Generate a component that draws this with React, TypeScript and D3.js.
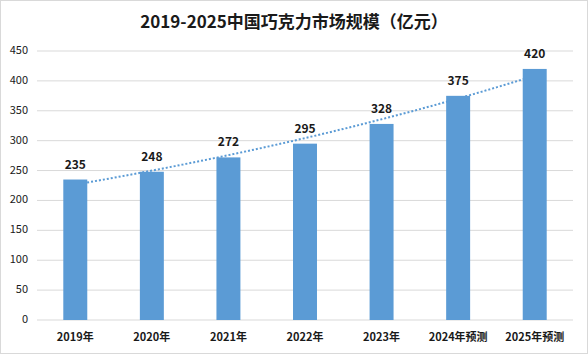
import * as d3 from 'd3';

const years = ['2019年', '2020年', '2021年', '2022年', '2023年', '2024年预测', '2025年预测'];
const values = [235, 248, 272, 295, 328, 375, 420];
const yTicks = [0, 50, 100, 150, 200, 250, 300, 350, 400, 450];

const title = '2019-2025中国巧克力市场规模（亿元）';
const font = '"Noto Sans CJK SC", "Noto Sans", sans-serif';
const barColor = '#5B9BD5';

export default function App() {
  const width = 588;
  const height = 354;
  const margin = { top: 51, right: 15, bottom: 34, left: 37 };
  const chartWidth = width - margin.left - margin.right;
  const chartHeight = height - margin.top - margin.bottom;

  const xScale = d3.scaleBand<string>()
    .domain(years)
    .range([0, chartWidth])
    .paddingInner(0.687)
    .paddingOuter(0.3435);

  const yScale = d3.scaleLinear()
    .domain([0, 450])
    .range([chartHeight, 0]);

  // exponential trendline (least squares on log values), as in the spreadsheet chart
  const idx = values.map((_, i) => i);
  const logs = values.map(v => Math.log(v));
  const mx = d3.mean(idx) as number;
  const my = d3.mean(logs) as number;
  const b = d3.sum(idx, i => (i - mx) * (logs[i] - my)) / d3.sum(idx, i => (i - mx) ** 2);
  const a = Math.exp(my - b * mx);
  const center = (i: number) => (xScale(years[i]) as number) + xScale.bandwidth() / 2;
  const step = xScale.step();
  const trendPts = d3.range(0, 6.001, 0.1);
  const trend = d3.line<number>()
    .x(t => center(0) + t * step)
    .y(t => yScale(a * Math.exp(b * t)));

  return (
    <svg width={width} height={height} style={{ position: 'absolute', left: 0, top: 0 }}>
      <rect x={0.5} y={0.5} width={width - 1} height={height - 1} fill="#fff" stroke="#d9d9d9" />
      <text
        x={width / 2}
        y={28}
        textAnchor="middle"
        fontSize={17}
        fontWeight="bold"
        fontFamily={font}
        fill="#1a1a1a"
      >
        {title}
      </text>
      <g transform={`translate(${margin.left},${margin.top})`}>
        {/* grid + y axis labels */}
        {yTicks.map(t => (
          <g key={t}>
            <line x1={0} x2={chartWidth} y1={yScale(t)} y2={yScale(t)} stroke="#d9d9d9" strokeWidth={1} />
            <text
              x={-9}
              y={yScale(t)}
              textAnchor="end"
              dominantBaseline="middle"
              fontSize={11}
              fontFamily={font}
              fill="#1a1a1a"
            >
              {t}
            </text>
          </g>
        ))}

        {/* trendline */}
        <path
          d={trend(trendPts) || ''}
          fill="none"
          stroke={barColor}
          strokeWidth={2}
          strokeDasharray="2,2"
        />

        {/* bars */}
        {values.map((v, i) => (
          <rect
            key={years[i]}
            x={xScale(years[i])}
            y={yScale(v)}
            width={xScale.bandwidth()}
            height={chartHeight - yScale(v)}
            fill={barColor}
          />
        ))}

        {/* value labels */}
        {values.map((v, i) => (
          <text
            key={years[i]}
            x={center(i)}
            y={yScale(v) - 11}
            textAnchor="middle"
            fontSize={12}
            fontWeight="bold"
            fontFamily={font}
            fill="#1a1a1a"
          >
            {v}
          </text>
        ))}

        {/* x axis labels */}
        {years.map((y, i) => (
          <text
            key={y}
            x={center(i)}
            y={chartHeight + 21}
            textAnchor="middle"
            fontSize={11}
            fontWeight="bold"
            fontFamily={font}
            fill="#1a1a1a"
          >
            {y}
          </text>
        ))}
      </g>
    </svg>
  );
}
